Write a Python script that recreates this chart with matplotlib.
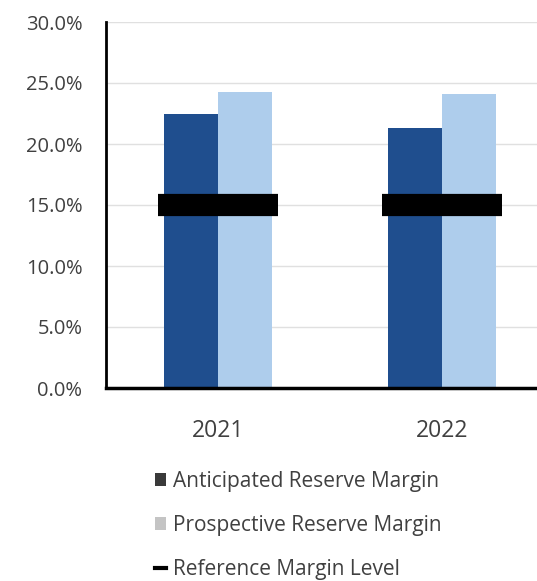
import matplotlib
matplotlib.use("Agg")
import matplotlib.pyplot as plt
from matplotlib.patches import Patch
from matplotlib.lines import Line2D
import numpy as np

plt.rcParams['font.family'] = ['Open Sans', 'DejaVu Sans']

years = ["2021", "2022"]
anticipated = [22.5, 21.3]
prospective = [24.3, 24.1]
reference = [15.0, 15.0]
y_ticks = [0, 5, 10, 15, 20, 25, 30]
legend_labels = ["Anticipated Reserve Margin", "Prospective Reserve Margin", "Reference Margin Level"]

dark_blue = "#1f4e8e"
light_blue = "#aecdec"
text_col = "#404040"

W, H = 537, 581
fig = plt.figure(figsize=(W / 100, H / 100), dpi=100)
ax = fig.add_axes([106 / W, 1 - 388 / H, 448 / W, 366 / H])

x = np.arange(len(years))
bw = 0.24
ax.bar(x - bw / 2, anticipated, width=bw, color=dark_blue, zorder=2)
ax.bar(x + bw / 2, prospective, width=bw, color=light_blue, zorder=2)
ax.hlines(reference, x - 0.268, x + 0.268, colors="black", linewidth=16, zorder=3)

ax.set_xlim(-0.5, 1.5)
ax.set_ylim(0, 30)
ax.set_yticks(y_ticks)
ax.set_yticklabels([f"{v:.1f}%" for v in y_ticks], fontsize=14.5, color=text_col)
ax.set_xticks(x)
ax.set_xticklabels(years, fontsize=16.5, color=text_col)
ax.tick_params(axis="both", length=0)
ax.tick_params(axis="y", pad=17)
ax.tick_params(axis="x", pad=22)
ax.yaxis.grid(True, color="#e0e0e0", linewidth=1, zorder=0)
ax.set_axisbelow(True)
for s in ["top", "right"]:
    ax.spines[s].set_visible(False)
ax.spines["left"].set_linewidth(2)
ax.spines["bottom"].set_linewidth(2.5)

handles = [
    Patch(facecolor="#3a3a3a", edgecolor="none"),
    Patch(facecolor="#c4c4c4", edgecolor="none"),
    Line2D([0], [0], color="black", linewidth=3),
]
leg = fig.legend(handles, legend_labels, loc="upper left",
                 bbox_to_anchor=(155 / W, 1 - 471 / H), frameon=False,
                 fontsize=15, handlelength=0.55, handleheight=0.55,
                 handletextpad=0.3, labelspacing=1.1, borderpad=0,
                 borderaxespad=0)
for t in leg.get_texts():
    t.set_color(text_col)

fig.savefig("out.png", dpi=100)
